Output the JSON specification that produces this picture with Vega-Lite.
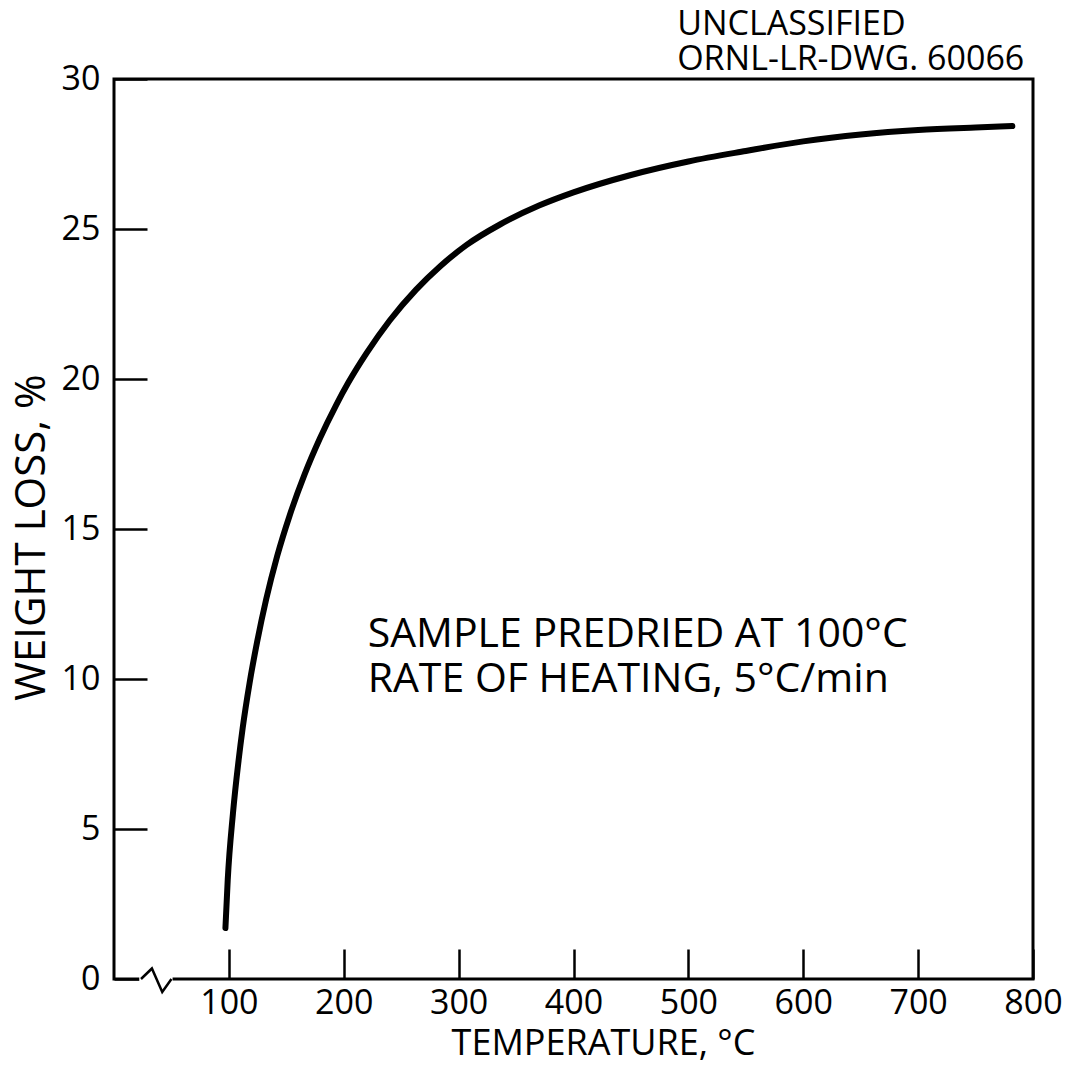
{
  "$schema": "https://vega.github.io/schema/vega-lite/v6.json",
  "width": 919,
  "height": 900,
  "autosize": {"type": "none"},
  "padding": {"left": 114, "top": 79, "right": 42, "bottom": 87},
  "background": "white",
  "config": {
    "view": {"stroke": "black", "strokeWidth": 3},
    "font": "Open Sans"
  },
  "title": {
    "text": ["UNCLASSIFIED", "ORNL-LR-DWG. 60066"],
    "anchor": "end",
    "align": "left",
    "dx": -385,
    "dy": 23,
    "fontSize": 34,
    "fontWeight": "normal",
    "font": "Open Sans",
    "color": "black",
    "lineHeight": 35,
    "offset": 8
  },
  "datasets": {
    "curve": [
      {"T": 97, "W": 1.7},
      {"T": 99, "W": 3.3},
      {"T": 103.5, "W": 5.5},
      {"T": 108.5, "W": 7.3},
      {"T": 112, "W": 8.36},
      {"T": 118, "W": 9.86},
      {"T": 124.5, "W": 11.22},
      {"T": 132.5, "W": 12.66},
      {"T": 142, "W": 14.09},
      {"T": 153, "W": 15.46},
      {"T": 166, "W": 16.83},
      {"T": 179, "W": 18.0},
      {"T": 193.5, "W": 19.14},
      {"T": 204, "W": 19.88},
      {"T": 220, "W": 20.87},
      {"T": 240, "W": 21.95},
      {"T": 263, "W": 22.98},
      {"T": 284, "W": 23.76},
      {"T": 307, "W": 24.47},
      {"T": 336, "W": 25.15},
      {"T": 370, "W": 25.78},
      {"T": 400, "W": 26.22},
      {"T": 450, "W": 26.8},
      {"T": 500, "W": 27.25},
      {"T": 550, "W": 27.6},
      {"T": 600, "W": 27.92},
      {"T": 650, "W": 28.15},
      {"T": 700, "W": 28.3},
      {"T": 750, "W": 28.385},
      {"T": 782, "W": 28.43}
    ],
    "notes": [
      {"T": 220.8, "W": 11.07, "label": "SAMPLE PREDRIED AT 100°C"},
      {"T": 220.8, "W": 9.57, "label": "RATE OF HEATING, 5°C/min"}
    ],
    "gap": [
      {"T": 22, "T2": 51, "W": 0}
    ],
    "zigzag": [
      {"T": 23.5, "W": 0},
      {"T": 33, "W": 0.35},
      {"T": 42, "W": -0.43},
      {"T": 50, "W": 0}
    ]
  },
  "layer": [
    {
      "data": {"name": "curve"},
      "mark": {"type": "line", "color": "black", "strokeWidth": 6, "interpolate": "monotone", "strokeCap": "round"},
      "encoding": {
        "x": {
          "field": "T",
          "type": "quantitative",
          "scale": {"domain": [0, 800], "nice": false, "zero": false},
          "axis": {
            "values": [100, 200, 300, 400, 500, 600, 700, 800],
            "tickSize": -30,
            "tickWidth": 2.5,
            "tickColor": "black",
            "domain": false,
            "grid": false,
            "labelFontSize": 34,
            "labelColor": "black",
            "labelFont": "Open Sans",
            "labelPadding": 37,
            "labelFlush": false,
            "title": "TEMPERATURE, °C",
            "titleFont": "Open Sans",
            "titleFontSize": 36,
            "titleFontWeight": "normal",
            "titleColor": "black",
            "titleX": 489,
            "titleY": 64,
            "titleAlign": "center",
            "titleBaseline": "middle"
          }
        },
        "y": {
          "field": "W",
          "type": "quantitative",
          "scale": {"domain": [0, 30], "nice": false},
          "axis": {
            "values": [0, 5, 10, 15, 20, 25, 30],
            "tickSize": -33,
            "tickWidth": 2.5,
            "tickColor": "black",
            "domain": false,
            "grid": false,
            "labelFontSize": 34,
            "labelColor": "black",
            "labelFont": "Open Sans",
            "labelPadding": 47,
            "labelFlush": false,
            "title": "WEIGHT LOSS, %",
            "titleFont": "Open Sans",
            "titleFontSize": 42,
            "titleFontWeight": "normal",
            "titleColor": "black",
            "titleX": -83,
            "titleY": 458,
            "titleAngle": 270,
            "titleAlign": "center",
            "titleBaseline": "middle"
          }
        }
      }
    },
    {
      "data": {"name": "notes"},
      "mark": {"type": "text", "align": "left", "baseline": "alphabetic", "fontSize": 41, "font": "Open Sans", "color": "black"},
      "encoding": {
        "x": {"field": "T", "type": "quantitative"},
        "y": {"field": "W", "type": "quantitative"},
        "text": {"field": "label"}
      }
    },
    {
      "data": {"name": "gap"},
      "mark": {"type": "rule", "color": "white", "strokeWidth": 5},
      "encoding": {
        "x": {"field": "T", "type": "quantitative"},
        "x2": {"field": "T2"},
        "y": {"field": "W", "type": "quantitative"}
      }
    },
    {
      "data": {"name": "zigzag"},
      "mark": {"type": "line", "color": "black", "strokeWidth": 2.5, "clip": false},
      "encoding": {
        "x": {"field": "T", "type": "quantitative"},
        "y": {"field": "W", "type": "quantitative"}
      }
    }
  ]
}
